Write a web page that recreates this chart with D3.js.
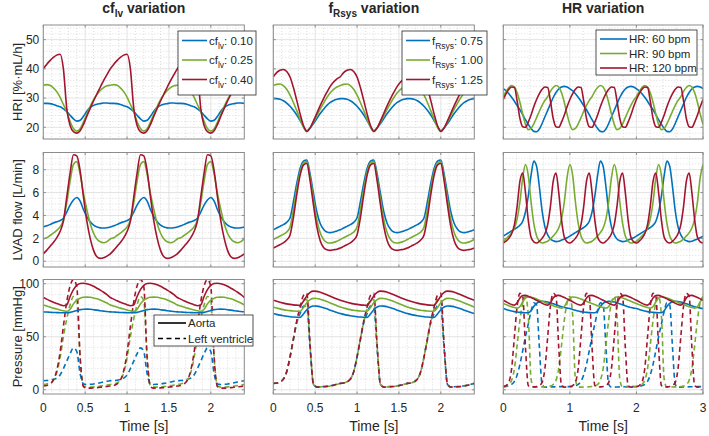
<!DOCTYPE html>
<html><head><meta charset="utf-8">
<script src="https://cdnjs.cloudflare.com/ajax/libs/d3/7.8.5/d3.min.js"></script>
<style>body{margin:0;background:#fff;} svg{display:block;font-family:"Liberation Sans",Arial,Helvetica,sans-serif;}</style>
</head><body><svg id="c" width="709" height="436"></svg>
<script>
// ---------- time grids ----------
const T_A = [0,0.04,0.08,0.12,0.16,0.2,0.24,0.28,0.32,0.36,0.4,0.44,0.48,0.52,0.56,0.6,0.64,0.68,0.72,0.76,
0.8,0.84,0.88,0.92,0.96,1,1.04,1.08,1.12,1.16,1.2,1.24,1.28,1.32,1.36,1.4,1.44,1.48,1.52,1.56,
1.6,1.64,1.68,1.72,1.76,1.8,1.84,1.88,1.92,1.96,2,2.04,2.08,2.12,2.16,2.2,2.24,2.28,2.32,2.36,2.4];
const T_B = [0,0.042,0.083,0.125,0.167,0.208,0.25,0.292,0.333,0.375,0.417,0.458,0.5,0.542,0.583,0.625,0.667,0.708,0.75,0.792,0.833,0.875,0.917,0.958,
1,1.042,1.083,1.125,1.167,1.208,1.25,1.292,1.333,1.375,1.417,1.458,1.5,1.542,1.583,1.625,1.667,1.708,1.75,1.792,1.833,1.875,1.917,1.958,
2,2.042,2.083,2.125,2.167,2.208,2.25,2.292,2.333,2.375,2.417,2.458,2.5,2.542,2.583,2.625,2.667,2.708,2.75,2.792,2.833,2.875,2.917,2.958,3];

// ---------- tick labels ----------
const xTicksA = [0,0.5,1,1.5,2];
const xTicksB = [0,1,2,3];
const yTicksHRI = [20,30,40,50];
const yTicksFlow = [0,2,4,6,8];
const yTicksP = [0,50,100];

// ---------- column 1: cf_lv variation ----------
const hriCf010 = [28.2,28.2,28.1,27.8,27.4,27,26.3,25.4,24.1,22.9,22.1,22.4,23.8,25.5,26.8,27.5,27.9,28.1,28.3,28.3,
28.2,28.2,28.1,27.8,27.4,27,26.3,25.4,24.1,22.9,22.1,22.4,23.8,25.5,26.8,27.5,27.9,28.1,28.3,28.3,
28.2,28.2,28.1,27.8,27.4,27,26.3,25.4,24.1,22.9,22.1,22.4,23.8,25.5,26.8,27.5,27.9,28.1,28.3,28.3,28.2];
const hriCf025 = [34.4,34.6,34.4,33.5,32.2,30.3,27.8,25.3,22,19.6,18.7,19.5,21.8,24.5,27.2,29.5,31.2,32.6,33.6,34.2,
34.4,34.6,34.4,33.5,32.2,30.3,27.8,25.3,22,19.6,18.7,19.5,21.8,24.5,27.2,29.5,31.2,32.6,33.6,34.2,
34.4,34.6,34.4,33.5,32.2,30.3,27.8,25.3,22,19.6,18.7,19.5,21.8,24.5,27.2,29.5,31.2,32.6,33.6,34.2,34.4];
const hriCf040 = [40,41.5,42.8,43.9,44.7,45,40,26.5,20.6,18.5,18,18.8,21,23.8,26.5,29,31.4,33.7,36,38,
40,41.5,42.8,43.9,44.7,45,40,26.5,20.6,18.5,18,18.8,21,23.8,26.5,29,31.4,33.7,36,38,
40,41.5,42.8,43.9,44.7,45,40,26.5,20.6,18.5,18,18.8,21,23.8,26.5,29,31.4,33.7,36,38,40];

const flowCf010 = [3,3.1,3.2,3.35,3.45,3.55,3.75,4.3,4.9,5.35,5.57,5.25,4.5,3.9,3.45,3.15,3,2.92,2.9,2.93,
3,3.1,3.2,3.35,3.45,3.55,3.75,4.3,4.9,5.35,5.57,5.25,4.5,3.9,3.45,3.15,3,2.92,2.9,2.93,
3,3.1,3.2,3.35,3.45,3.55,3.75,4.3,4.9,5.35,5.57,5.25,4.5,3.9,3.45,3.15,3,2.92,2.9,2.93,3];
const flowCf025 = [1.95,2.05,2.25,2.45,2.7,3,3.6,5.1,7,8.45,8.7,7.6,5.9,4.5,3.3,2.45,1.95,1.7,1.62,1.72,
1.95,2.05,2.25,2.45,2.7,3,3.6,5.1,7,8.45,8.7,7.6,5.9,4.5,3.3,2.45,1.95,1.7,1.62,1.72,
1.95,2.05,2.25,2.45,2.7,3,3.6,5.1,7,8.45,8.7,7.6,5.9,4.5,3.3,2.45,1.95,1.7,1.62,1.72,1.95];
const flowCf040 = [0.65,0.95,1.3,1.65,2.05,2.6,3.5,5.6,7.7,9.3,9.2,7.9,5.6,3.5,2,0.95,0.4,0.25,0.3,0.45,
0.65,0.95,1.3,1.65,2.05,2.6,3.5,5.6,7.7,9.3,9.2,7.9,5.6,3.5,2,0.95,0.4,0.25,0.3,0.45,
0.65,0.95,1.3,1.65,2.05,2.6,3.5,5.6,7.7,9.3,9.2,7.9,5.6,3.5,2,0.95,0.4,0.25,0.3,0.45,0.65];

const aoCf010 = [73.5,73.3,73.1,72.9,72.8,72.7,72.6,72.6,73,73.8,74.8,75.6,76,76.1,75.9,75.5,75.1,74.6,74.2,73.8,
73.5,73.3,73.1,72.9,72.8,72.7,72.6,72.6,73,73.8,74.8,75.6,76,76.1,75.9,75.5,75.1,74.6,74.2,73.8,
73.5,73.3,73.1,72.9,72.8,72.7,72.6,72.6,73,73.8,74.8,75.6,76,76.1,75.9,75.5,75.1,74.6,74.2,73.8,73.5];
const aoCf025 = [80,79,78,77,76.1,75.3,74.6,74,76,81,84.5,86.3,87.2,87.4,87.2,86.6,85.8,84.7,83.3,81.8,
80,79,78,77,76.1,75.3,74.6,74,76,81,84.5,86.3,87.2,87.4,87.2,86.6,85.8,84.7,83.3,81.8,
80,79,78,77,76.1,75.3,74.6,74,76,81,84.5,86.3,87.2,87.4,87.2,86.6,85.8,84.7,83.3,81.8,80];
const aoCf040 = [87,85.5,84,82.6,81.3,80.2,79.3,80,88,94.5,98.5,100.2,100.5,100,99,97.6,95.8,94,92,89.7,
87,85.5,84,82.6,81.3,80.2,79.3,80,88,94.5,98.5,100.2,100.5,100,99,97.6,95.8,94,92,89.7,
87,85.5,84,82.6,81.3,80.2,79.3,80,88,94.5,98.5,100.2,100.5,100,99,97.6,95.8,94,92,89.7,87];
const lvCf010 = [8.5,8.7,9,9.8,11,14,20,27,34,39.5,36,15,5.5,5,5.2,5.5,6,6.6,7.3,8,
8.5,8.7,9,9.8,11,14,20,27,34,39.5,36,15,5.5,5,5.2,5.5,6,6.6,7.3,8,
8.5,8.7,9,9.8,11,14,20,27,34,39.5,36,15,5.5,5,5.2,5.5,6,6.6,7.3,8,8.5];
const lvCf025 = [5,5.5,6.5,9,16,30,50,67,80,88,84,30,3.5,2.5,2.5,2.7,3,3.4,3.9,4.4,
5,5.5,6.5,9,16,30,50,67,80,88,84,30,3.5,2.5,2.5,2.7,3,3.4,3.9,4.4,
5,5.5,6.5,9,16,30,50,67,80,88,84,30,3.5,2.5,2.5,2.7,3,3.4,3.9,4.4,5];
const lvCf040 = [3.5,4,5.5,9,18,35,60,83,98,104,97,30,3,1.5,1.5,1.8,2,2.3,2.7,3.1,
3.5,4,5.5,9,18,35,60,83,98,104,97,30,3,1.5,1.5,1.8,2,2.3,2.7,3.1,
3.5,4,5.5,9,18,35,60,83,98,104,97,30,3,1.5,1.5,1.8,2,2.3,2.7,3.1,3.5];

// ---------- column 2: f_Rsys variation ----------
const hriF075 = [29.8,29.8,29.6,29.1,28.3,27.2,25.8,24.2,22.3,20.3,18.8,19.8,21.3,23,24.7,26.2,27.5,28.5,29.2,29.6,
29.8,29.8,29.6,29.1,28.3,27.2,25.8,24.2,22.3,20.3,18.8,19.8,21.3,23,24.7,26.2,27.5,28.5,29.2,29.6,
29.8,29.8,29.6,29.1,28.3,27.2,25.8,24.2,22.3,20.3,18.8,19.8,21.3,23,24.7,26.2,27.5,28.5,29.2,29.6,29.8];
const hriF100 = [34.3,34.7,34.8,34.3,33,31,28.5,25.7,22.8,20,18.6,19.8,21.8,24,26.2,28.3,30.2,31.8,33,33.8,
34.3,34.7,34.8,34.3,33,31,28.5,25.7,22.8,20,18.6,19.8,21.8,24,26.2,28.3,30.2,31.8,33,33.8,
34.3,34.7,34.8,34.3,33,31,28.5,25.7,22.8,20,18.6,19.8,21.8,24,26.2,28.3,30.2,31.8,33,33.8,34.3];
const hriF125 = [37.3,38.7,39.5,39.8,39.1,37.2,33.6,29.2,24.6,20.6,18.6,19.8,22.2,24.8,27.4,29.8,32,34,35.5,36.6,
37.3,38.7,39.5,39.8,39.1,37.2,33.6,29.2,24.6,20.6,18.6,19.8,22.2,24.8,27.4,29.8,32,34,35.5,36.6,
37.3,38.7,39.5,39.8,39.1,37.2,33.6,29.2,24.6,20.6,18.6,19.8,22.2,24.8,27.4,29.8,32,34,35.5,36.6,37.3];

const flowF075 = [2.75,2.9,3.05,3.2,3.4,3.8,5.2,6.8,8.1,8.75,8.85,7.6,5.9,4.3,3.3,2.8,2.55,2.5,2.55,2.65,
2.75,2.9,3.05,3.2,3.4,3.8,5.2,6.8,8.1,8.75,8.85,7.6,5.9,4.3,3.3,2.8,2.55,2.5,2.55,2.65,
2.75,2.9,3.05,3.2,3.4,3.8,5.2,6.8,8.1,8.75,8.85,7.6,5.9,4.3,3.3,2.8,2.55,2.5,2.55,2.65,2.75];
const flowF100 = [1.9,2.05,2.2,2.35,2.55,3,4.5,6.3,7.8,8.6,8.7,7.3,5.4,3.6,2.5,1.9,1.65,1.6,1.65,1.75,
1.9,2.05,2.2,2.35,2.55,3,4.5,6.3,7.8,8.6,8.7,7.3,5.4,3.6,2.5,1.9,1.65,1.6,1.65,1.75,
1.9,2.05,2.2,2.35,2.55,3,4.5,6.3,7.8,8.6,8.7,7.3,5.4,3.6,2.5,1.9,1.65,1.6,1.65,1.75,1.9];
const flowF125 = [1.15,1.3,1.45,1.6,1.85,2.3,3.8,5.8,7.5,8.4,8.55,7,4.9,3,1.8,1.2,1,0.95,1,1.05,
1.15,1.3,1.45,1.6,1.85,2.3,3.8,5.8,7.5,8.4,8.55,7,4.9,3,1.8,1.2,1,0.95,1,1.05,
1.15,1.3,1.45,1.6,1.85,2.3,3.8,5.8,7.5,8.4,8.55,7,4.9,3,1.8,1.2,1,0.95,1,1.05,1.15];

const aoF075 = [71.9,71.1,70.4,69.8,69.3,68.9,68.6,68.4,68.3,71.5,75.5,78,79,78.9,78.3,77.4,76.3,75.1,74,72.9,
71.9,71.1,70.4,69.8,69.3,68.9,68.6,68.4,68.3,71.5,75.5,78,79,78.9,78.3,77.4,76.3,75.1,74,72.9,
71.9,71.1,70.4,69.8,69.3,68.9,68.6,68.4,68.3,71.5,75.5,78,79,78.9,78.3,77.4,76.3,75.1,74,72.9,71.9];
const aoF100 = [78.1,77.1,76.3,75.6,75,74.6,74.3,74.1,74,77.5,82,85,86.2,86.1,85.4,84.4,83.2,81.9,80.6,79.3,
78.1,77.1,76.3,75.6,75,74.6,74.3,74.1,74,77.5,82,85,86.2,86.1,85.4,84.4,83.2,81.9,80.6,79.3,
78.1,77.1,76.3,75.6,75,74.6,74.3,74.1,74,77.5,82,85,86.2,86.1,85.4,84.4,83.2,81.9,80.6,79.3,78.1];
const aoF125 = [84.4,83.4,82.5,81.7,81,80.5,80.1,79.8,79.6,83.5,88.5,91.8,93,92.8,92,90.9,89.6,88.2,86.8,85.5,
84.4,83.4,82.5,81.7,81,80.5,80.1,79.8,79.6,83.5,88.5,91.8,93,92.8,92,90.9,89.6,88.2,86.8,85.5,
84.4,83.4,82.5,81.7,81,80.5,80.1,79.8,79.6,83.5,88.5,91.8,93,92.8,92,90.9,89.6,88.2,86.8,85.5,84.4];
const lvF075 = [6,6.3,7.5,10,17,31,47,63,72,79,78,38,5,2.8,2.9,3.1,3.4,3.8,4.5,5.2,
6,6.3,7.5,10,17,31,47,63,72,79,78,38,5,2.8,2.9,3.1,3.4,3.8,4.5,5.2,
6,6.3,7.5,10,17,31,47,63,72,79,78,38,5,2.8,2.9,3.1,3.4,3.8,4.5,5.2,6];
const lvF100 = [6,6.3,7.5,10,17,31,48,64,76,85,85,40,5,2.6,2.7,2.9,3.2,3.6,4.3,5.1,
6,6.3,7.5,10,17,31,48,64,76,85,85,40,5,2.6,2.7,2.9,3.2,3.6,4.3,5.1,
6,6.3,7.5,10,17,31,48,64,76,85,85,40,5,2.6,2.7,2.9,3.2,3.6,4.3,5.1,6];
const lvF125 = [6,6.3,7.5,10,17,31,48,65,78,89,91,42,5,2.5,2.6,2.8,3.1,3.5,4.2,5,
6,6.3,7.5,10,17,31,48,65,78,89,91,42,5,2.5,2.6,2.8,3.1,3.5,4.2,5,
6,6.3,7.5,10,17,31,48,65,78,89,91,42,5,2.5,2.6,2.8,3.1,3.5,4.2,5,6];

// ---------- column 3: HR variation ----------
const hriHR60 = [33.2,32.5,31.5,30.3,28.9,27.4,26,24.3,22.6,21,19.6,18.6,18.5,19.4,21.3,23.6,25.8,28,30.2,31.9,33.1,33.8,34,33.8,
33.2,32.5,31.5,30.3,28.9,27.4,26,24.3,22.6,21,19.6,18.6,18.5,19.4,21.3,23.6,25.8,28,30.2,31.9,33.1,33.8,34,33.8,
33.2,32.5,31.5,30.3,28.9,27.4,26,24.3,22.6,21,19.6,18.6,18.5,19.4,21.3,23.6,25.8,28,30.2,31.9,33.1,33.8,34,33.8,33.2];
const hriHR90 = [30.5,32.3,33.6,34.3,33.8,31.8,28.5,24.5,21,19.2,19.6,21.2,23.3,25.5,27.5,29.2,
30.5,32.3,33.6,34.3,33.8,31.8,28.5,24.5,21,19.2,19.6,21.2,23.3,25.5,27.5,29.2,
30.5,32.3,33.6,34.3,33.8,31.8,28.5,24.5,21,19.2,19.6,21.2,23.3,25.5,27.5,29.2,
30.5,32.3,33.6,34.3,33.8,31.8,28.5,24.5,21,19.2,19.6,21.2,23.3,25.5,27.5,29.2,
30.5,32.3,33.6,34.3,33.8,31.8,28.5,24.5,21];
const hriHR120 = [29.5,31.5,33,33.8,33.6,29,23,20.2,20,21.8,24.2,27,
29.5,31.5,33,33.8,33.6,29,23,20.2,20,21.8,24.2,27,
29.5,31.5,33,33.8,33.6,29,23,20.2,20,21.8,24.2,27,
29.5,31.5,33,33.8,33.6,29,23,20.2,20,21.8,24.2,27,
29.5,31.5,33,33.8,33.6,29,23,20.2,20,21.8,24.2,27,
29.5,31.5,33,33.8,33.6,29,23,20.2,20,21.8,24.2,27,29.5];

const flowHR60 = [2.2,2.35,2.5,2.65,2.8,2.95,3.15,3.5,4.3,5.7,7.5,8.75,8.3,6.5,4.4,3,2.3,1.95,1.8,1.72,1.75,1.85,1.95,2.05,
2.2,2.35,2.5,2.65,2.8,2.95,3.15,3.5,4.3,5.7,7.5,8.75,8.3,6.5,4.4,3,2.3,1.95,1.8,1.72,1.75,1.85,1.95,2.05,
2.2,2.35,2.5,2.65,2.8,2.95,3.15,3.5,4.3,5.7,7.5,8.75,8.3,6.5,4.4,3,2.3,1.95,1.8,1.72,1.75,1.85,1.95,2.05,2.2];
const flowHR90 = [1.75,1.95,2.2,2.5,2.9,3.7,5.2,7.3,8.45,7.5,5.2,3.3,2.2,1.75,1.6,1.65,
1.75,1.95,2.2,2.5,2.9,3.7,5.2,7.3,8.45,7.5,5.2,3.3,2.2,1.75,1.6,1.65,
1.75,1.95,2.2,2.5,2.9,3.7,5.2,7.3,8.45,7.5,5.2,3.3,2.2,1.75,1.6,1.65,
1.75,1.95,2.2,2.5,2.9,3.7,5.2,7.3,8.45,7.5,5.2,3.3,2.2,1.75,1.6,1.65,
1.75,1.95,2.2,2.5,2.9,3.7,5.2,7.3,8.45];
const flowHR120 = [1.6,1.75,2,2.4,3.2,4.8,7,7.7,6,3.6,2.1,1.7,
1.6,1.75,2,2.4,3.2,4.8,7,7.7,6,3.6,2.1,1.7,
1.6,1.75,2,2.4,3.2,4.8,7,7.7,6,3.6,2.1,1.7,
1.6,1.75,2,2.4,3.2,4.8,7,7.7,6,3.6,2.1,1.7,
1.6,1.75,2,2.4,3.2,4.8,7,7.7,6,3.6,2.1,1.7,
1.6,1.75,2,2.4,3.2,4.8,7,7.7,6,3.6,2.1,1.7,1.6];

const aoHR60 = [76.6,75.7,74.9,74.2,73.7,73.3,73,72.8,72.7,72.7,74.5,78.5,81.5,83,83.5,83.3,82.8,82,81.1,80.2,79.3,78.4,77.6,77,
76.6,75.7,74.9,74.2,73.7,73.3,73,72.8,72.7,72.7,74.5,78.5,81.5,83,83.5,83.3,82.8,82,81.1,80.2,79.3,78.4,77.6,77,
76.6,75.7,74.9,74.2,73.7,73.3,73,72.8,72.7,72.7,74.5,78.5,81.5,83,83.5,83.3,82.8,82,81.1,80.2,79.3,78.4,77.6,77,76.6];
const lvHR60 = [3,3.2,3.8,5,8,14,24,37,50,62,74,82,80,40,5,2.5,2.5,2.6,2.7,2.8,2.9,3,3,3,
3,3.2,3.8,5,8,14,24,37,50,62,74,82,80,40,5,2.5,2.5,2.6,2.7,2.8,2.9,3,3,3,
3,3.2,3.8,5,8,14,24,37,50,62,74,82,80,40,5,2.5,2.5,2.6,2.7,2.8,2.9,3,3,3,3];
const aoHR90 = [81.3,80.3,79.3,78.4,77.6,77,78.5,83,86.5,87.5,87.3,86.6,85.6,84.5,83.4,82.3,
81.3,80.3,79.3,78.4,77.6,77,78.5,83,86.5,87.5,87.3,86.6,85.6,84.5,83.4,82.3,
81.3,80.3,79.3,78.4,77.6,77,78.5,83,86.5,87.5,87.3,86.6,85.6,84.5,83.4,82.3,
81.3,80.3,79.3,78.4,77.6,77,78.5,83,86.5,87.5,87.3,86.6,85.6,84.5,83.4,82.3,
81.3,80.3,79.3,78.4,77.6,77,78.5,83,86.5];
const lvHR90 = [3,3.5,5,9,20,42,66,82,88,70,10,2.5,2.5,2.6,2.7,2.8,
3,3.5,5,9,20,42,66,82,88,70,10,2.5,2.5,2.6,2.7,2.8,
3,3.5,5,9,20,42,66,82,88,70,10,2.5,2.5,2.6,2.7,2.8,
3,3.5,5,9,20,42,66,82,88,70,10,2.5,2.5,2.6,2.7,2.8,
3,3.5,5,9,20,42,66,82,88];
const aoHR120 = [84.4,83,81.6,80.4,79.8,82,86.5,88.8,89,88.2,87,85.7,
84.4,83,81.6,80.4,79.8,82,86.5,88.8,89,88.2,87,85.7,
84.4,83,81.6,80.4,79.8,82,86.5,88.8,89,88.2,87,85.7,
84.4,83,81.6,80.4,79.8,82,86.5,88.8,89,88.2,87,85.7,
84.4,83,81.6,80.4,79.8,82,86.5,88.8,89,88.2,87,85.7,
84.4,83,81.6,80.4,79.8,82,86.5,88.8,89,88.2,87,85.7,84.4];
const lvHR120 = [3,4,7,20,50,79,91,88,40,4,2.5,2.7,
3,4,7,20,50,79,91,88,40,4,2.5,2.7,
3,4,7,20,50,79,91,88,40,4,2.5,2.7,
3,4,7,20,50,79,91,88,40,4,2.5,2.7,
3,4,7,20,50,79,91,88,40,4,2.5,2.7,
3,4,7,20,50,79,91,88,40,4,2.5,2.7,3];

// ---------- styling / layout ----------
const BLUE = "#0072BD", GREEN = "#77AC30", RED = "#A2142F";
const AX = "#262626";
const svg = d3.select("#c");

const cols = [
  {x0:43.3, x1:244.3, dom:[0,2.4], ticks:xTicksA, minor:0.1, T:T_A},
  {x0:273.3, x1:474.3, dom:[0,2.4], ticks:xTicksA, minor:0.1, T:T_A},
  {x0:503.3, x1:703, dom:[0,3], ticks:xTicksB, minor:0.2, T:T_B}];
const rows = [
  {y0:25, y1:139, dom:[16,55], ticks:yTicksHRI, minor:2, label:"HRI [%·mL/h]"},
  {y0:152.5, y1:267, dom:[-0.5,9.5], ticks:yTicksFlow, minor:0.5, label:"LVAD flow [L/min]"},
  {y0:279.5, y1:394, dom:[-4,104], ticks:yTicksP, minor:10, label:"Pressure [mmHg]"}];

const panelSeries = [
  [ [[hriCf010,BLUE],[hriCf025,GREEN],[hriCf040,RED]],
    [[hriF075,BLUE],[hriF100,GREEN],[hriF125,RED]],
    [[hriHR60,BLUE],[hriHR90,GREEN],[hriHR120,RED]] ],
  [ [[flowCf010,BLUE],[flowCf025,GREEN],[flowCf040,RED]],
    [[flowF075,BLUE],[flowF100,GREEN],[flowF125,RED]],
    [[flowHR60,BLUE],[flowHR90,GREEN],[flowHR120,RED]] ],
  [ [[lvCf010,BLUE,1],[lvCf025,GREEN,1],[lvCf040,RED,1],[aoCf010,BLUE],[aoCf025,GREEN],[aoCf040,RED]],
    [[lvF075,BLUE,1],[lvF100,GREEN,1],[lvF125,RED,1],[aoF075,BLUE],[aoF100,GREEN],[aoF125,RED]],
    [[lvHR60,BLUE,1],[lvHR90,GREEN,1],[lvHR120,RED,1],[aoHR60,BLUE],[aoHR90,GREEN],[aoHR120,RED]] ]
];

function rangeStep(a,b,s){const out=[];const n=Math.round((b-a)/s);for(let i=0;i<=n;i++){const v=a+i*s; if(v>=a-1e-9&&v<=b+1e-9) out.push(+v.toFixed(6));}return out;}

rows.forEach((R,ri)=>{
  cols.forEach((C,ci)=>{
    const x = d3.scaleLinear().domain(C.dom).range([C.x0,C.x1]);
    const y = d3.scaleLinear().domain(R.dom).range([R.y1,R.y0]);
    const g = svg.append("g");
    g.append("rect").attr("x",C.x0).attr("y",R.y0).attr("width",C.x1-C.x0).attr("height",R.y1-R.y0).attr("fill","#fff");
    // minor grid
    const mx = rangeStep(Math.ceil(C.dom[0]/C.minor)*C.minor, C.dom[1], C.minor).filter(v=>!C.ticks.some(t=>Math.abs(t-v)<1e-6));
    const my = rangeStep(Math.ceil(R.dom[0]/R.minor)*R.minor, R.dom[1], R.minor).filter(v=>!R.ticks.some(t=>Math.abs(t-v)<1e-6));
    g.selectAll(null).data(mx).enter().append("line")
      .attr("x1",d=>x(d)).attr("x2",d=>x(d)).attr("y1",R.y0).attr("y2",R.y1)
      .attr("stroke","#cfcfcf").attr("stroke-width",0.7).attr("stroke-dasharray","1,2");
    g.selectAll(null).data(my).enter().append("line")
      .attr("y1",d=>y(d)).attr("y2",d=>y(d)).attr("x1",C.x0).attr("x2",C.x1)
      .attr("stroke","#cfcfcf").attr("stroke-width",0.7).attr("stroke-dasharray","1,2");
    // major grid
    g.selectAll(null).data(C.ticks).enter().append("line")
      .attr("x1",d=>x(d)).attr("x2",d=>x(d)).attr("y1",R.y0).attr("y2",R.y1)
      .attr("stroke","#dcdcdc").attr("stroke-width",0.8);
    g.selectAll(null).data(R.ticks).enter().append("line")
      .attr("y1",d=>y(d)).attr("y2",d=>y(d)).attr("x1",C.x0).attr("x2",C.x1)
      .attr("stroke","#dcdcdc").attr("stroke-width",0.8);
    // clip
    const cid = "clip"+ri+ci;
    svg.append("clipPath").attr("id",cid).append("rect")
      .attr("x",C.x0).attr("y",R.y0).attr("width",C.x1-C.x0).attr("height",R.y1-R.y0);
    const lg = g.append("g").attr("clip-path","url(#"+cid+")");
    panelSeries[ri][ci].forEach(s=>{
      const vals = s[0];
      const pts = vals.map((v,i)=>[C.T[i],v]).filter(p=>p[0]!==undefined);
      const line = d3.line().x(p=>x(p[0])).y(p=>y(p[1])).curve(d3.curveMonotoneX);
      lg.append("path").attr("d",line(pts)).attr("fill","none")
        .attr("stroke",s[1]).attr("stroke-width",1.6)
        .attr("stroke-dasharray", s[2] ? "5,3.5" : null)
        .attr("stroke-linejoin","round");
    });
    // box
    g.append("rect").attr("x",C.x0).attr("y",R.y0).attr("width",C.x1-C.x0).attr("height",R.y1-R.y0)
      .attr("fill","none").attr("stroke","#8c8c8c").attr("stroke-width",1);
    // ticks (inward)
    C.ticks.forEach(t=>{
      g.append("line").attr("x1",x(t)).attr("x2",x(t)).attr("y1",R.y1).attr("y2",R.y1-2.5).attr("stroke","#8c8c8c");
      g.append("line").attr("x1",x(t)).attr("x2",x(t)).attr("y1",R.y0).attr("y2",R.y0+2.5).attr("stroke","#8c8c8c");
    });
    R.ticks.forEach(t=>{
      g.append("line").attr("y1",y(t)).attr("y2",y(t)).attr("x1",C.x0).attr("x2",C.x0+2.5).attr("stroke","#8c8c8c");
      g.append("line").attr("y1",y(t)).attr("y2",y(t)).attr("x1",C.x1).attr("x2",C.x1-2.5).attr("stroke","#8c8c8c");
    });
    // tick labels
    if (ci===0) {
      g.selectAll(null).data(R.ticks).enter().append("text")
        .attr("x",C.x0-4).attr("y",d=>y(d)).attr("dy","0.35em").attr("text-anchor","end")
        .attr("font-size",12).attr("fill",AX).text(d=>d);
      svg.append("text").attr("transform",`translate(21.5,${(R.y0+R.y1)/2}) rotate(-90)`)
        .attr("text-anchor","middle").attr("font-size",13).attr("fill",AX).text(R.label);
    }
    if (ri===2) {
      g.selectAll(null).data(C.ticks).enter().append("text")
        .attr("x",d=>x(d)).attr("y",411.5).attr("text-anchor","middle")
        .attr("font-size",12).attr("fill",AX).text(d=>d);
      svg.append("text").attr("x",(C.x0+C.x1)/2).attr("y",431).attr("text-anchor","middle")
        .attr("font-size",14).attr("fill",AX).text("Time [s]");
    }
  });
});

// ---------- titles ----------
function subText(sel, main, sub, rest, fs, subfs, bold){
  const t = sel.attr("font-size",fs).attr("font-weight",bold?"bold":null).attr("fill",AX);
  t.append("tspan").text(main);
  if (sub) { t.append("tspan").attr("font-size",subfs).attr("dy",4).text(sub);
             t.append("tspan").attr("dy",-4).text(rest); }
  else t.append("tspan").text(rest);
  return t;
}
subText(svg.append("text").attr("x",(cols[0].x0+cols[0].x1)/2).attr("y",13).attr("text-anchor","middle"),"cf","lv"," variation",14,10,true);
subText(svg.append("text").attr("x",(cols[1].x0+cols[1].x1)/2).attr("y",13).attr("text-anchor","middle"),"f","Rsys"," variation",14,10,true);
subText(svg.append("text").attr("x",(cols[2].x0+cols[2].x1)/2).attr("y",13).attr("text-anchor","middle"),"HR variation","","",14,10,true);

// ---------- legends ----------
const legCf = [["cf","lv",": 0.10",BLUE],["cf","lv",": 0.25",GREEN],["cf","lv",": 0.40",RED]];
const legF = [["f","Rsys",": 0.75",BLUE],["f","Rsys",": 1.00",GREEN],["f","Rsys",": 1.25",RED]];
const legHR = [["HR: 60 bpm","","",BLUE],["HR: 90 bpm","","",GREEN],["HR: 120 bpm","","",RED]];
const legP = [["Aorta","","","#000",0],["Left ventricle","","","#000",1]];

function legend(items, bx, by, bw, bh, rowY, lineLen){
  const g = svg.append("g");
  g.append("rect").attr("x",bx).attr("y",by).attr("width",bw).attr("height",bh)
    .attr("fill","#fff").attr("stroke","#262626").attr("stroke-width",0.8);
  items.forEach((it,i)=>{
    const yy = rowY[i];
    g.append("line").attr("x1",bx+4).attr("x2",bx+4+lineLen).attr("y1",yy).attr("y2",yy)
      .attr("stroke",it[3]).attr("stroke-width",1.6).attr("stroke-dasharray",it[4]?"5,3.5":null);
    subText(g.append("text").attr("x",bx+6+lineLen).attr("y",yy).attr("dy","0.35em"),it[0],it[1],it[2],11.5,8.5,false);
  });
}
legend(legCf, 178, 31, 78, 64, [40.5,60,79.5], 25);
legend(legF, 402, 31, 85, 64, [40.5,60,79.5], 24);
legend(legHR, 596, 30, 101, 45, [39,53.5,68], 27);
legend(legP, 154, 315, 99, 31, [323,338.5], 28);
</script></body></html>
